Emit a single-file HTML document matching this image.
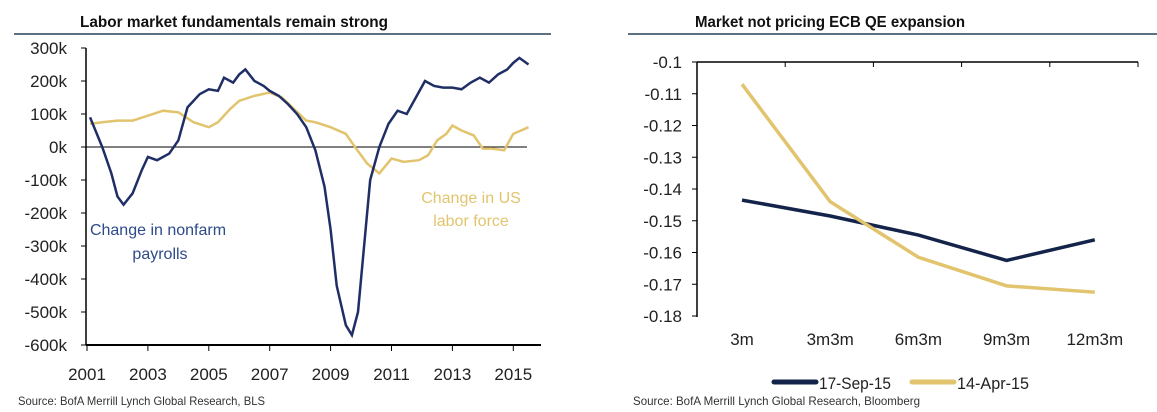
<!DOCTYPE html>
<html><head><meta charset="utf-8"><style>
body{margin:0;background:#fff;width:1157px;height:412px;overflow:hidden;font-family:"Liberation Sans Narrow","Liberation Sans",sans-serif}
svg{position:absolute;left:0;top:0}
</style></head><body>
<svg id="s" width="1157" height="412">
<text x="80" y="27" font-size="16" font-weight="bold" fill="#111" textLength="308" lengthAdjust="spacingAndGlyphs">Labor market fundamentals remain strong</text>
<line x1="14" y1="34" x2="551" y2="34" stroke="#5c7282" stroke-width="2"/>
<text x="695" y="27" font-size="16" font-weight="bold" fill="#111" textLength="270" lengthAdjust="spacingAndGlyphs">Market not pricing ECB QE expansion</text>
<line x1="628" y1="34" x2="1157" y2="34" stroke="#5c7282" stroke-width="2"/>
<text x="18" y="405" font-size="12" fill="#333" textLength="247" lengthAdjust="spacingAndGlyphs">Source: BofA Merrill Lynch Global Research, BLS</text>
<text x="633" y="405" font-size="12" fill="#333" textLength="287" lengthAdjust="spacingAndGlyphs">Source: BofA Merrill Lynch Global Research, Bloomberg</text>
<g id="L"></g><g id="R"></g>
</svg>
<script>
const NS="http://www.w3.org/2000/svg";
function mk(p,t,a){const e=document.createElementNS(NS,t);for(const k in a)e.setAttribute(k,a[k]);p.appendChild(e);return e;}
// Left chart data
const yTicksL=[300,200,100,0,-100,-200,-300,-400,-500,-600];
const yearTicks=[2001,2003,2005,2007,2009,2011,2013,2015];
const payT=[2001.1,2001.5,2001.8,2002.0,2002.2,2002.5,2002.8,2003.0,2003.3,2003.7,2004.0,2004.3,2004.7,2005.0,2005.3,2005.5,2005.8,2006.0,2006.2,2006.5,2006.8,2007.0,2007.3,2007.6,2007.9,2008.2,2008.5,2008.8,2009.0,2009.2,2009.5,2009.7,2009.9,2010.1,2010.3,2010.6,2010.9,2011.2,2011.5,2011.8,2012.1,2012.4,2012.7,2013.0,2013.3,2013.6,2013.9,2014.2,2014.5,2014.8,2015.0,2015.2,2015.5];
const payV=[90,0,-80,-150,-175,-140,-70,-30,-40,-20,20,120,160,175,170,210,195,220,235,200,185,170,155,130,100,60,-10,-120,-250,-420,-540,-570,-500,-300,-100,0,70,110,100,150,200,185,180,180,175,195,210,195,220,235,255,270,250];
const lfT=[2001.1,2001.5,2002,2002.5,2003,2003.5,2004,2004.5,2005,2005.3,2005.7,2006,2006.5,2007,2007.4,2007.8,2008.2,2008.5,2009,2009.5,2009.8,2010.2,2010.6,2011,2011.4,2011.9,2012.2,2012.5,2012.8,2013.0,2013.3,2013.7,2014,2014.3,2014.7,2015.0,2015.5];
const lfV=[70,75,80,80,95,110,105,75,60,75,115,140,155,165,150,115,80,75,60,40,0,-50,-80,-35,-45,-40,-25,20,40,65,50,35,-5,-5,-10,40,60];
const L=document.getElementById('L');
const xL=t=>87+(t-2001)*30.45, yL=v=>147-v*0.33;
let a=mk(L,'line',{x1:86,y1:48,x2:86,y2:345,stroke:'#000','stroke-width':1.5});

a=mk(L,'line',{x1:86,y1:345,x2:541,y2:345,stroke:'#000','stroke-width':2});

a=mk(L,'line',{x1:86,y1:yL(0),x2:527,y2:yL(0),stroke:'#000','stroke-width':1});

yTicksL.forEach(v=>{mk(L,'line',{x1:81,y1:yL(v),x2:86,y2:yL(v),stroke:'#000'});
 const t=mk(L,'text',{x:67,y:yL(v)+6,'font-size':17,'text-anchor':'end',fill:'#222'});t.textContent=v+'k';
 });
yearTicks.forEach(y=>{mk(L,'line',{x1:xL(y),y1:345,x2:xL(y),y2:351,stroke:'#000'});
 const t=mk(L,'text',{x:xL(y),y:380,'font-size':17,'text-anchor':'middle',fill:'#222'});t.textContent=y;
 });
a=mk(L,'polyline',{points:lfT.map((t,i)=>xL(t)+','+yL(lfV[i])).join(' '),fill:'none',stroke:'#e2c46e','stroke-width':2.5});

a=mk(L,'polyline',{points:payT.map((t,i)=>xL(t)+','+yL(payV[i])).join(' '),fill:'none',stroke:'#1f2f66','stroke-width':2.5});

[['Change in nonfarm',158,235],['payrolls',160,259]].forEach(d=>{const t=mk(L,'text',{x:d[1],y:d[2],'font-size':16,'text-anchor':'middle',fill:'#2d4a8a'});t.textContent=d[0];
 });
[['Change in US',471,203],['labor force',471,226]].forEach(d=>{const t=mk(L,'text',{x:d[1],y:d[2],'font-size':16,'text-anchor':'middle',fill:'#e2c46e'});t.textContent=d[0];
 });
// Right chart data
const cats=['3m','3m3m','6m3m','9m3m','12m3m'];
const yTicksR=[-0.1,-0.11,-0.12,-0.13,-0.14,-0.15,-0.16,-0.17,-0.18];
const sep15=[-0.1435,-0.1485,-0.1545,-0.1625,-0.156];
const apr15=[-0.107,-0.144,-0.1615,-0.1705,-0.1725];
const R=document.getElementById('R');
const xR=i=>742+i*88.2, yR=v=>62+(-0.1-v)*3175;
a=mk(R,'line',{x1:697,y1:62,x2:697,y2:317,stroke:'#000','stroke-width':1.5});

a=mk(R,'line',{x1:697,y1:62,x2:1138,y2:62,stroke:'#000','stroke-width':1.5});

for(let i=0;i<=5;i++)mk(R,'line',{x1:697+i*88.2,y1:62,x2:697+i*88.2,y2:67,stroke:'#000'});
yTicksR.forEach(v=>{mk(R,'line',{x1:692,y1:yR(v),x2:697,y2:yR(v),stroke:'#000'});
 const t=mk(R,'text',{x:682,y:yR(v)+6,'font-size':17,'text-anchor':'end',fill:'#222'});t.textContent=String(v);
 });
cats.forEach((c,i)=>{const t=mk(R,'text',{x:xR(i),y:345,'font-size':17,'text-anchor':'middle',fill:'#222'});t.textContent=c;
 });
a=mk(R,'polyline',{points:sep15.map((v,i)=>xR(i)+','+yR(v)).join(' '),fill:'none',stroke:'#14234a','stroke-width':3.5});

a=mk(R,'polyline',{points:apr15.map((v,i)=>xR(i)+','+yR(v)).join(' '),fill:'none',stroke:'#e2c46e','stroke-width':3.5});

[['17-Sep-15','#14234a',774],['14-Apr-15','#e2c46e',912]].forEach(d=>{
 const g=mk(R,'g',{});
 mk(g,'line',{x1:d[2],y1:382,x2:d[2]+42,y2:382,stroke:d[1],'stroke-width':5,'stroke-linecap':'round'});
 const t=mk(g,'text',{x:d[2]+45,y:389,'font-size':17,fill:'#222',textLength:72,lengthAdjust:'spacingAndGlyphs'});t.textContent=d[0];});
</script>
</body></html>
